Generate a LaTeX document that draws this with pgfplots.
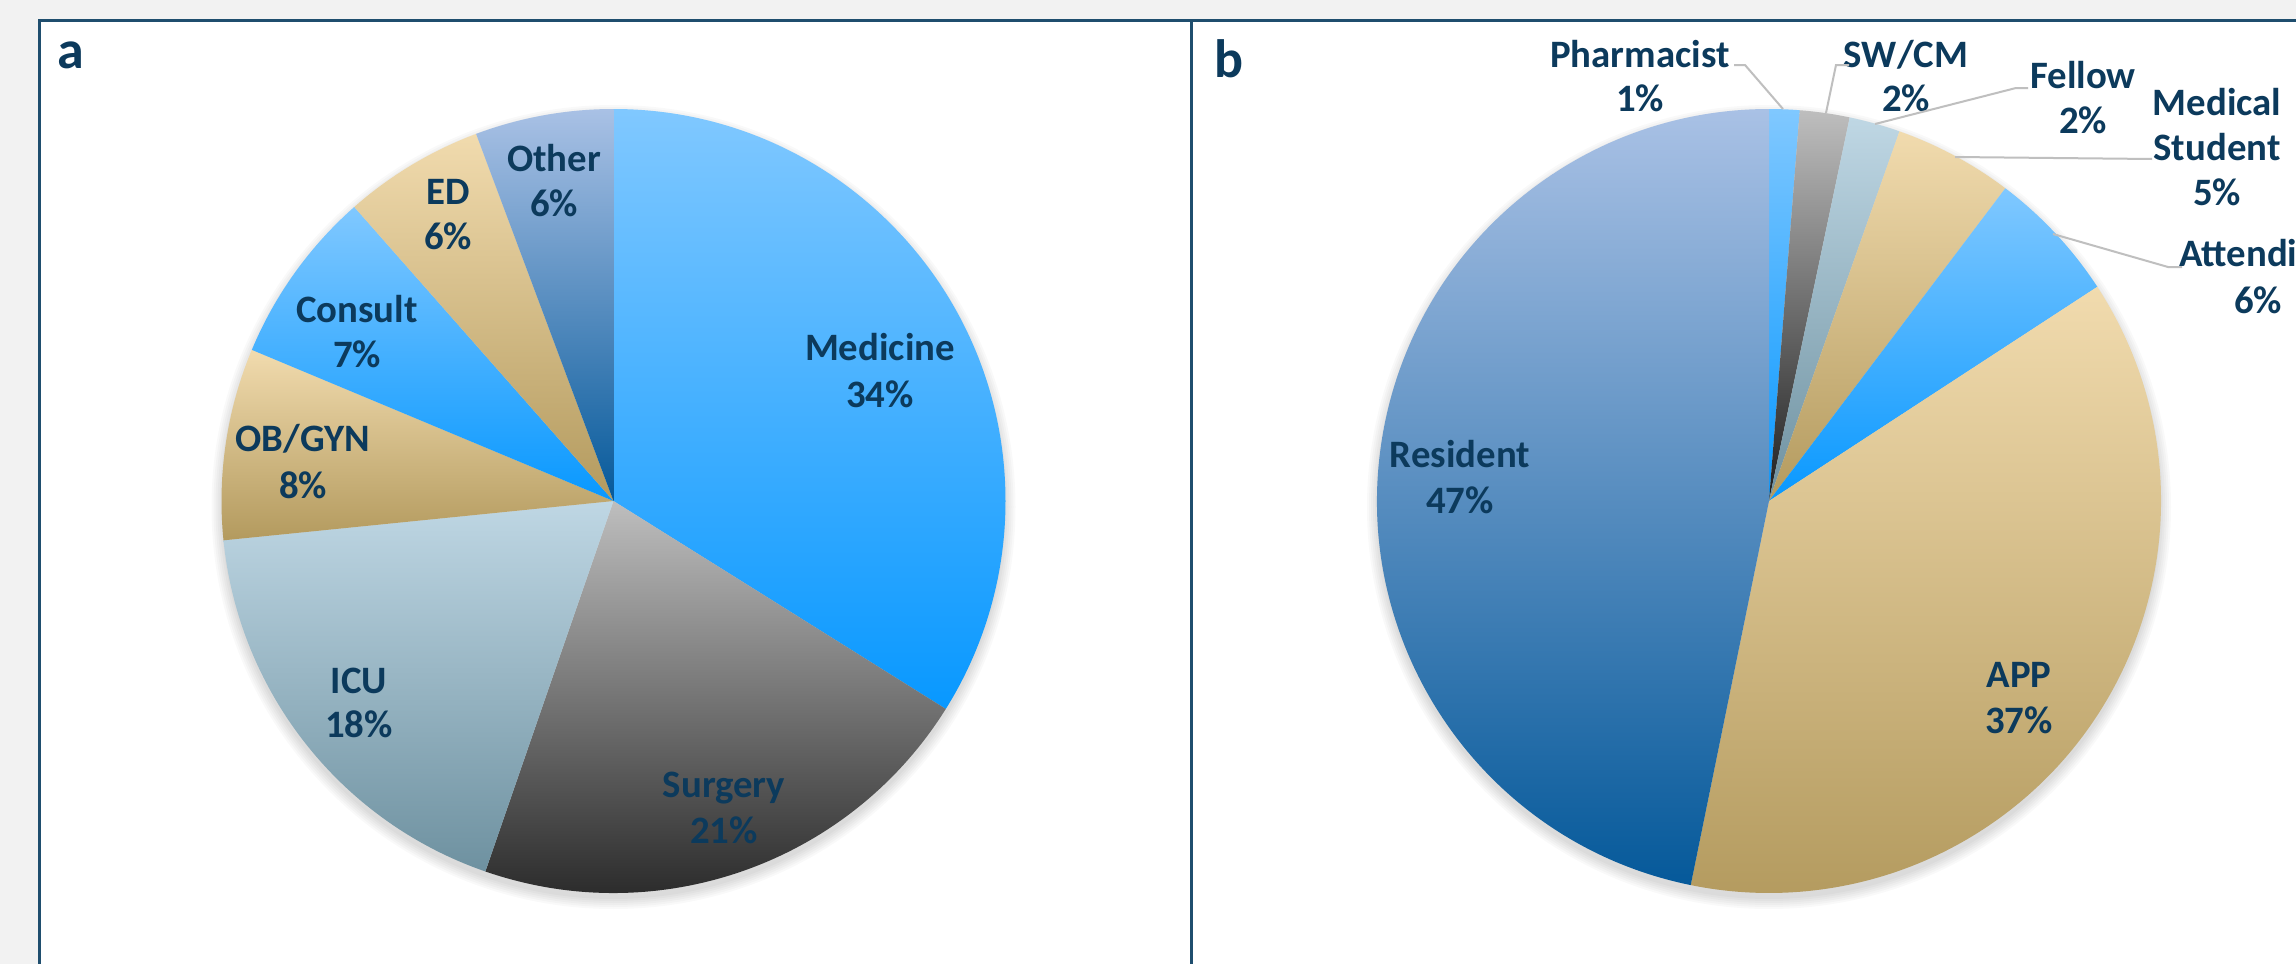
\documentclass[border=0pt]{standalone}
\usepackage{pgfplots}
\pgfplotsset{compat=1.18}
\usepackage{pgfplotstable}
\usepackage{fontspec}
\setmainfont{Carlito}

\definecolor{txt}{HTML}{0C3A5C}
\definecolor{frame}{HTML}{1F4E6E}
\definecolor{bgc}{HTML}{F2F2F2}
\definecolor{lead}{HTML}{BFBFBF}
\definecolor{skyT}{HTML}{80C8FF}
\definecolor{skyB}{HTML}{0898FF}
\definecolor{gryT}{HTML}{BEBEBE}
\definecolor{gryB}{HTML}{1E1E1E}
\definecolor{blgT}{HTML}{BFD7E4}
\definecolor{blgB}{HTML}{6E91A0}
\definecolor{tanT}{HTML}{F1DBAE}
\definecolor{tanB}{HTML}{B39A5E}
\definecolor{stlT}{HTML}{A9C1E5}
\definecolor{stlB}{HTML}{05599A}

\tikzset{
  sky/.style={top color=skyT,bottom color=skyB},
  gry/.style={top color=gryT,bottom color=gryB},
  blg/.style={top color=blgT,bottom color=blgB},
  tanfill/.style={top color=tanT,bottom color=tanB},
  stl/.style={top color=stlT,bottom color=stlB},
  lab/.style={font=\fontsize{9.7}{11.6}\selectfont\bfseries,text=txt,anchor=base,inner sep=0pt},
  leader/.style={draw=lead,line width=0.5pt},
}

% panel a: share of respondents by service (percent)
\pgfplotstableread[col sep=comma]{
name,value,fill
Medicine,33.9,sky
Surgery,21.4,gry
ICU,18.1,blg
OB/GYN,7.9,tanfill
Consult,7.2,sky
ED,5.8,tanfill
Other,5.7,stl
}\pieA

% panel b: share of respondents by role (percent)
\pgfplotstableread[col sep=comma]{
name,value,fill
Pharmacist,1.25,sky
SW/CM,2.05,gry
Fellow,2.1,blg
Medical Student,4.9,tanfill
Attending,5.5,sky
APP,37.4,tanfill
Resident,46.8,stl
}\pieB

\newcommand\drawpie[1]{%
  \pgfplotstablegetrowsof{#1}%
  \pgfmathtruncatemacro\pielast{\pgfplotsretval-1}%
  \def\piecum{0}%
  \pgfplotsforeachungrouped \pieidx in {0,...,\pielast}{%
    \pgfplotstablegetelem{\pieidx}{value}\of{#1}\let\pieval\pgfplotsretval
    \pgfplotstablegetelem{\pieidx}{fill}\of{#1}\let\piefill\pgfplotsretval
    \pgfmathsetmacro\piea{90-3.6*\piecum}%
    \pgfmathsetmacro\pieb{90-3.6*(\piecum+\pieval)}%
    \pgfmathsetmacro\piecum{\piecum+\pieval}%
    \edef\piecmd{\noexpand\path[\piefill] (axis cs:0,0) -- (axis cs:{cos(\piea)},{sin(\piea)}) arc[start angle=\piea,end angle=\pieb,radius=98pt] -- cycle;}%
    \piecmd
  }%
}

\newcommand\lab[3]{\node[lab] at (#1,#2) {#3};}

\begin{document}
\begin{tikzpicture}[x=0.25pt,y=-0.25pt]
\useasboundingbox (0,0) rectangle (2296,964);
\clip (0,0) rectangle (2296,964);
\fill[bgc] (0,0) rectangle (2296,964);
\filldraw[fill=white,draw=frame,line width=0.75pt] (39,20) rectangle (1191,1010);
\filldraw[fill=white,draw=frame,line width=0.75pt] (1191,20) rectangle (2400,1010);

% soft shadows
\foreach \k in {0,2,...,10} {
  \fill[black,opacity=0.025] (613.5,507) circle[radius=392+\k];
  \fill[black,opacity=0.025] (1769,507) circle[radius=392+\k];
}

\coordinate (ca) at (613.5,501);
\coordinate (cb) at (1769,501);

\begin{axis}[at={(ca)},anchor=center,width=196pt,height=196pt,scale only axis,
  xmin=-1,xmax=1,ymin=-1,ymax=1,hide axis,clip=false]
  \drawpie{\pieA}
\end{axis}

\begin{axis}[at={(cb)},anchor=center,width=196pt,height=196pt,scale only axis,
  xmin=-1,xmax=1,ymin=-1,ymax=1,hide axis,clip=false]
  \drawpie{\pieB}
\end{axis}

% panel letters
\node[font=\fontsize{13.5}{16}\selectfont\bfseries,text=txt,anchor=base west,inner sep=0pt] at (57,68) {a};
\node[font=\fontsize{13.5}{16}\selectfont\bfseries,text=txt,anchor=base west,inner sep=0pt] at (1214,78) {b};

% labels panel a
\lab{880}{360}{Medicine}\lab{880}{407}{34\%}
\lab{724}{797}{Surgery}\lab{724}{843}{21\%}
\lab{359}{693}{ICU}\lab{359}{737}{18\%}
\lab{303}{451}{OB/GYN}\lab{303}{498}{8\%}
\lab{357}{322}{Consult}\lab{357}{367}{7\%}
\lab{448}{204}{ED}\lab{448}{249}{6\%}
\lab{554}{171}{Other}\lab{554}{216}{6\%}

% labels panel b
\lab{1460}{467}{Resident}\lab{1460}{513}{47\%}
\lab{2019}{687}{APP}\lab{2019}{733}{37\%}
\lab{1640}{67}{Pharmacist}\lab{1640}{111}{1\%}
\lab{1906}{67}{SW/CM}\lab{1906}{111}{2\%}
\lab{2083}{88}{Fellow}\lab{2083}{134}{2\%}
\lab{2217}{115}{Medical}\lab{2217}{160}{Student}\lab{2217}{205}{5\%}
\lab{2258}{267}{Attending}\lab{2258}{313}{6\%}

% leader lines
\draw[leader] (1734,65) -- (1745,65) -- (1783,109);
\draw[leader] (1849,65) -- (1836,65) -- (1826,113);
\draw[leader] (2028,88) -- (2016,88) -- (1875,124);
\draw[leader] (2152,159) -- (1955,157);
\draw[leader] (2182,267) -- (2168,267) -- (2053,234);
\end{tikzpicture}
\end{document}
